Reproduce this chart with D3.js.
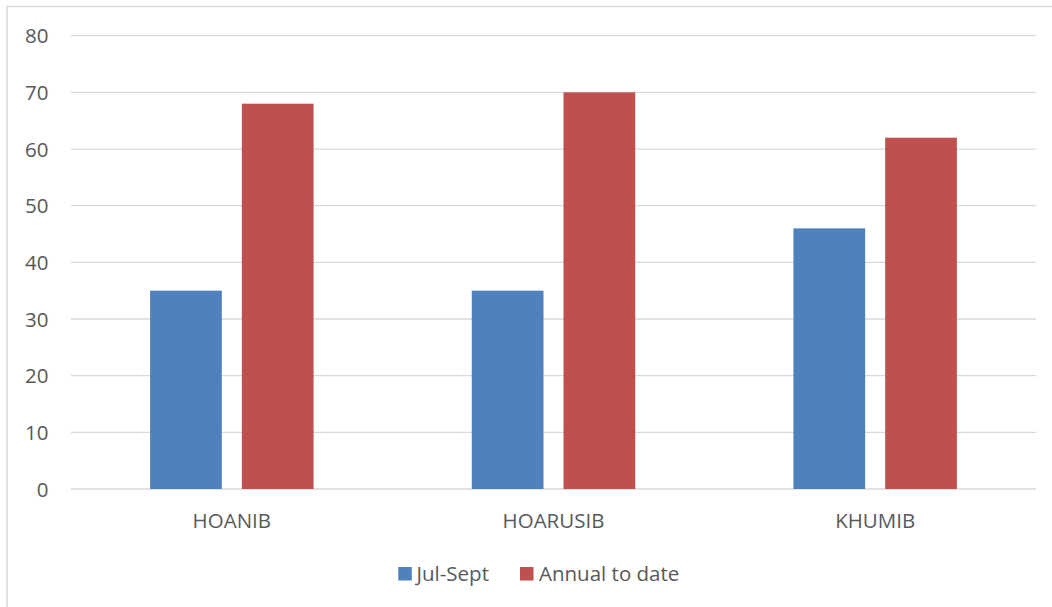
<!DOCTYPE html>
<html><head><meta charset="utf-8">
<script src="https://cdn.jsdelivr.net/npm/d3@7"></script>
<style>
html,body{margin:0;padding:0;background:#fff;}
svg{display:block;font-family:"Open Sans",sans-serif;}
</style></head>
<body>
<svg id="c" width="1052" height="607"></svg>
<script>
const categories = ["HOANIB", "HOARUSIB", "KHUMIB"];
const seriesNames = ["Jul-Sept", "Annual to date"];
const julSept = [35, 35, 46];
const annualToDate = [68, 70, 62];
const yTicks = [0, 10, 20, 30, 40, 50, 60, 70, 80];
const colors = ["#4f81bd", "#c0504d"];

(function () {
const svg = d3.select("#c");
const W = 1052, H = 607;
const pLeft = 71, pRight = 1036, pTop = 35.7, pBottom = 489;

// chart border
svg.append("rect").attr("x", 7).attr("y", 6.5).attr("width", W + 10).attr("height", H + 10)
  .attr("fill", "#fff").attr("stroke", "#d9d9d9").attr("stroke-width", 1.5);

const x = d3.scaleBand().domain(categories).range([pLeft, pRight]).padding(0);
const y = d3.scaleLinear().domain([0, 80]).range([pBottom, pTop]);

// gridlines
svg.append("g").selectAll("line").data(yTicks).join("line")
  .attr("x1", pLeft).attr("x2", pRight)
  .attr("y1", d => y(d)).attr("y2", d => y(d))
  .attr("stroke", "#d9d9d9").attr("stroke-width", 1.3);

// y axis labels
const yAxis = d3.axisLeft(y).tickValues(yTicks).tickSize(0).tickPadding(0);
const yg = svg.append("g").attr("transform", `translate(48.5,0)`).call(yAxis);
yg.select(".domain").remove();
yg.selectAll("text").attr("fill", "#595959").attr("font-size", 20.5)
  .attr("font-family", "'Open Sans',sans-serif").attr("dy", "0.35em");

// bars
const bw = x.bandwidth();
const barW = bw * 0.223, gap = bw * 0.0622;
const data = [julSept, annualToDate];
data.forEach((vals, si) => {
  svg.append("g").selectAll("rect").data(categories).join("rect")
    .attr("x", (c) => {
      const cx = x(c) + bw / 2;
      return si === 0 ? cx - gap / 2 - barW : cx + gap / 2;
    })
    .attr("y", (c, i) => y(vals[i]))
    .attr("width", barW)
    .attr("height", (c, i) => pBottom - y(vals[i]))
    .attr("fill", colors[si]);
});

// x axis labels
const xAxis = d3.axisBottom(x).tickSize(0).tickPadding(0);
const xg = svg.append("g").attr("transform", `translate(0,${pBottom})`).call(xAxis);
xg.select(".domain").remove();
xg.selectAll("text").attr("fill", "#595959").attr("font-size", 20.5)
  .attr("font-family", "'Open Sans',sans-serif").attr("dy", null).attr("y", 39);

// legend
const legendItems = [
  { name: seriesNames[0], color: colors[0], sx: 398.3, tx: 416.5 },
  { name: seriesNames[1], color: colors[1], sx: 520, tx: 539 }
];
const lg = svg.append("g");
legendItems.forEach(it => {
  lg.append("rect").attr("x", it.sx).attr("y", 567).attr("width", 13.5).attr("height", 13.5).attr("fill", it.color);
  lg.append("text").attr("x", it.tx).attr("y", 581).attr("fill", "#595959")
    .attr("font-size", 20.5).text(it.name);
});
})();
</script>
</body></html>
